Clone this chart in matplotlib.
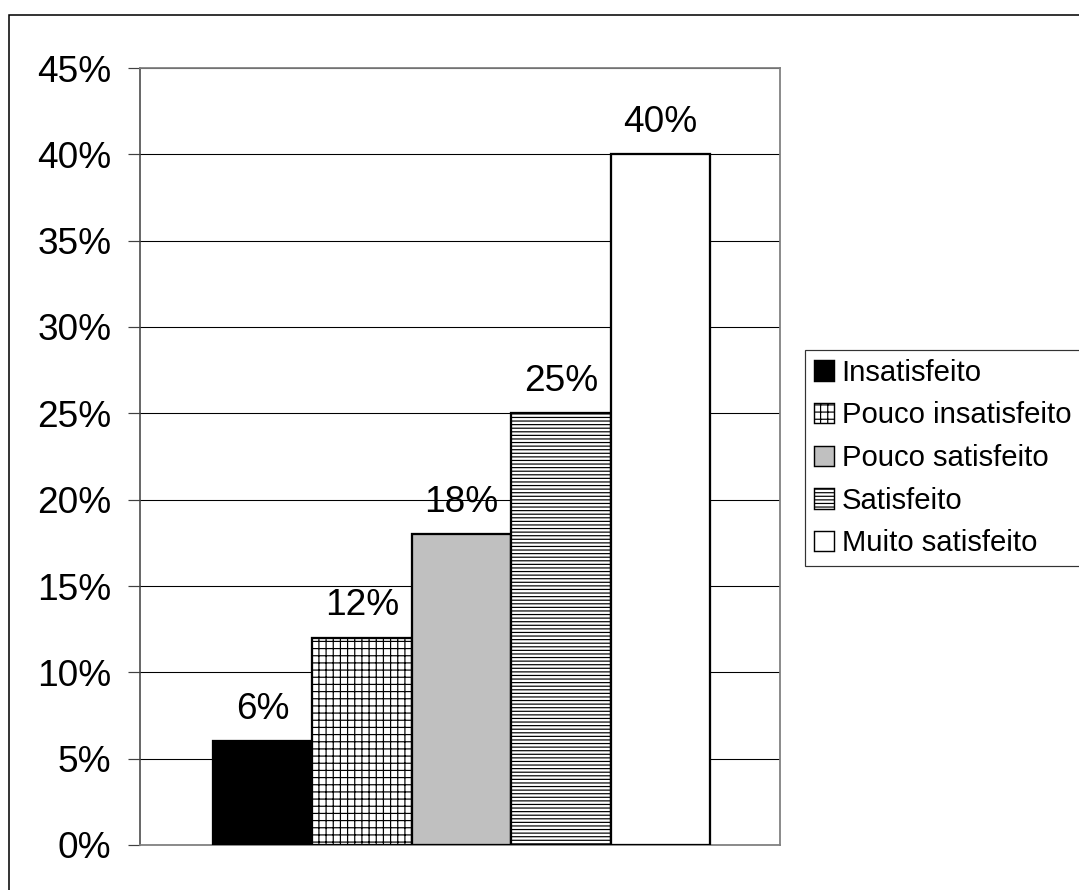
import matplotlib
matplotlib.use("Agg")

import matplotlib.pyplot as plt
from matplotlib.patches import Rectangle
from matplotlib.ticker import FuncFormatter

plt.rcParams["font.family"] = ["Liberation Sans", "DejaVu Sans"]
plt.rcParams["hatch.linewidth"] = 1.0

# data
categories = [
    "Insatisfeito",
    "Pouco insatisfeito",
    "Pouco satisfeito",
    "Satisfeito",
    "Muito satisfeito",
]
values = [6, 12, 18, 25, 40]
labels = ["6%", "12%", "18%", "25%", "40%"]
yticks = [0, 5, 10, 15, 20, 25, 30, 35, 40, 45]

# styles
fills = ["black", "white", "#C0C0C0", "white", "white"]
hatches = [None, "++", None, "----", None]

DPI = 86
fig = plt.figure(figsize=(1079 / DPI, 890 / DPI), dpi=DPI)

# outer chart border (only top and left visible)
fig.add_artist(Rectangle(
    (9 / 1079, -0.1), 1.2, (890 - 15) / 890 + 0.1,
    transform=fig.transFigure, fill=False, ec="black", lw=1.3
))

ax = fig.add_axes([140 / 1079, 45 / 890, 640 / 1079, 777 / 890])

x = list(range(len(values)))
for i in x:
    ax.bar(
        i, values[i], width=1.0,
        color=fills[i], hatch=hatches[i],
        edgecolor="black", linewidth=1.9,
        label=categories[i], zorder=3
    )

for i in x:
    ax.annotate(
        labels[i], (i, values[i]),
        xytext=(0, 12), textcoords="offset points",
        ha="center", va="bottom", fontsize=31
    )

ax.set_xlim(-1.234, 5.204)
ax.set_ylim(0, 45)
ax.set_yticks(yticks)
ax.yaxis.set_major_formatter(FuncFormatter(lambda v, p: f"{v:.0f}%"))
ax.tick_params(axis="y", labelsize=31, length=10, width=1.0,
               color="#404040", pad=14)
ax.set_xticks([])

ax.yaxis.grid(True, color="black", linewidth=0.9)
ax.set_axisbelow(True)

ax.spines["left"].set_color("#404040")
ax.spines["left"].set_linewidth(1.3)
for s in ["top", "right", "bottom"]:
    ax.spines[s].set_color("#808080")
    ax.spines[s].set_linewidth(1.5)

leg = fig.legend(
    loc="upper left",
    bbox_to_anchor=(805 / 1079, (890 - 350) / 890),
    fontsize=24.5,
    frameon=True,
    fancybox=False,
    edgecolor="black",
    handlelength=0.7,
    handleheight=0.7,
    handletextpad=0.25,
    labelspacing=0.5,
    borderpad=0.3,
    borderaxespad=0,
)
leg.get_frame().set_linewidth(1.0)
for h in leg.legend_handles:
    h.set_linewidth(1.2)

fig.savefig("out.png", dpi=DPI)
plt.close(fig)
